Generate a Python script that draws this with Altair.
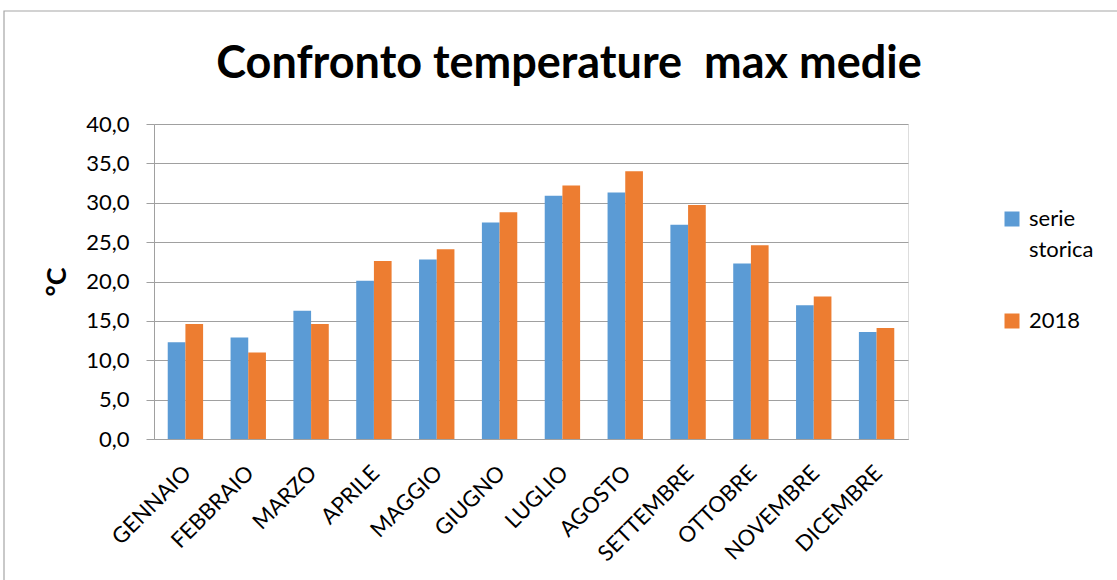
import altair as alt
import pandas as pd

mesi = ["GENNAIO", "FEBBRAIO", "MARZO", "APRILE", "MAGGIO", "GIUGNO",
        "LUGLIO", "AGOSTO", "SETTEMBRE", "OTTOBRE", "NOVEMBRE", "DICEMBRE"]
serie_storica = [12.3, 12.9, 16.3, 20.1, 22.8, 27.5, 30.9, 31.3, 27.2, 22.3, 17.0, 13.6]
anno_2018 = [14.6, 11.0, 14.6, 22.6, 24.1, 28.8, 32.2, 34.0, 29.7, 24.6, 18.1, 14.1]
serie_nomi = ["serie storica", "2018"]
colori = ["#5B9BD5", "#ED7D31"]

rows = []
for m, a, b in zip(mesi, serie_storica, anno_2018):
    rows.append({"mese": m, "serie": serie_nomi[0], "valore": a})
    rows.append({"mese": m, "serie": serie_nomi[1], "valore": b})
df = pd.DataFrame(rows)

FONT = "Lato"

bars = alt.Chart(df).mark_bar().encode(
    x=alt.X("mese:N", sort=mesi,
            scale=alt.Scale(paddingInner=0.437, paddingOuter=0.2185),
            axis=alt.Axis(title=None, labelAngle=-45, labelFontSize=22, labelFont=FONT,
                          labelColor="#000000", ticks=False, tickSize=0,
                          domainColor="#A0A0A0", labelOffset=2,
                          labelPadding=30, labelAlign="right", labelBaseline="middle")),
    xOffset=alt.XOffset("serie:N", sort=serie_nomi),
    y=alt.Y("valore:Q", scale=alt.Scale(domain=[0, 40], nice=False),
            axis=alt.Axis(title="°C", values=[0, 5, 10, 15, 20, 25, 30, 35, 40],
                          labelExpr="replace(format(datum.value, '.1f'), '.', ',')",
                          labelFontSize=22, labelFont=FONT, labelColor="#000000",
                          tickSize=8, tickColor="#A0A0A0", domainColor="#A0A0A0",
                          gridColor="#A0A0A0", labelPadding=17,
                          titleFont=FONT, titleFontSize=27, titleFontWeight="bold",
                          titleColor="#000000", titlePadding=14)),
    color=alt.Color("serie:N", sort=serie_nomi,
                    scale=alt.Scale(domain=serie_nomi, range=colori),
                    legend=alt.Legend(title=None, orient="none", legendX=847, legendY=84,
                                      symbolType="square", symbolSize=225,
                                      symbolStrokeWidth=0, labelFontSize=22,
                                      labelFont=FONT, labelColor="#000000",
                                      labelExpr="datum.label == 'serie storica' ? ['serie', 'storica'] : datum.label",
                                      rowPadding=49, labelOffset=6))
)

border = alt.Chart(pd.DataFrame({"k": [0]})).mark_rect(
    fill=None, stroke="#A6A6A6", strokeWidth=1.2).encode(
    x=alt.value(-150), x2=alt.value(975), y=alt.value(-113), y2=alt.value(470))

chart = alt.layer(border, bars).properties(
    width=754, height=315,
    title=alt.TitleParams("Confronto temperature\u00a0 max medie", fontSize=45, font=FONT,
                          fontWeight="bold", color="#000000", dx=38, offset=-113,
                          baseline="alphabetic"),
    padding={"left": 154, "top": 124, "right": 209, "bottom": 141},
    autosize=alt.AutoSizeParams(type="none"),
).configure_view(stroke=None).configure(
    background="white",
    style={"guide-label": {"lineHeight": 31}},
)

chart.save("out.html", embed_options={"renderer": "svg", "actions": False})
